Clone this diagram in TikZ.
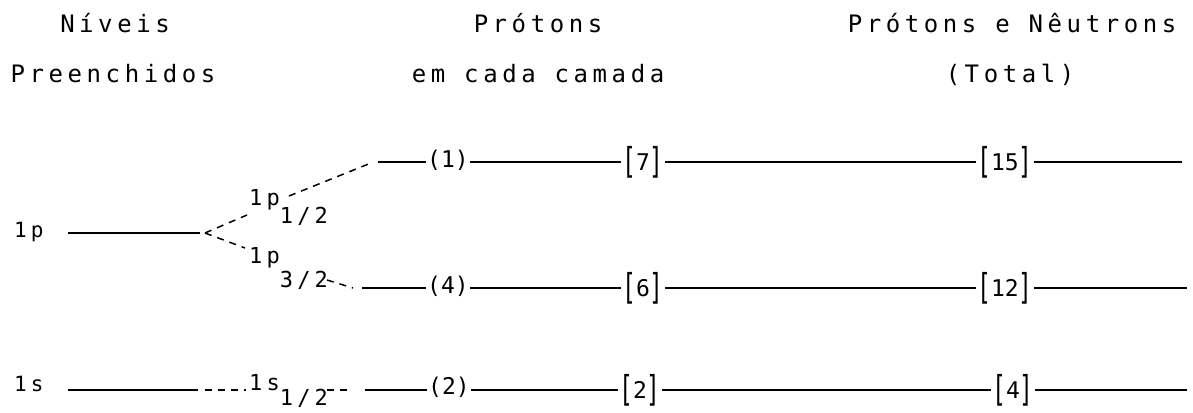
\documentclass[tikz,border=0pt]{standalone}
\usepackage{fontspec}
\usepackage{graphicx}
\newfontfamily\tw[LetterSpace=19]{DejaVu Sans Mono}
\newfontfamily\twn{DejaVu Sans Mono}
\newcommand\lbk{\raisebox{-0.12em}{\scalebox{1}[1.55]{[}}}
\newcommand\rbk{\raisebox{-0.12em}{\scalebox{1}[1.55]{]}}}
\begin{document}
\begin{tikzpicture}[x=1pt,y=-1pt,
  hdr/.style={font=\tw\fontsize{24}{28}\selectfont, inner sep=0pt, anchor=base},
  lvl/.style={font=\tw\fontsize{21}{24}\selectfont, inner sep=0pt, anchor=base west},
  sub/.style={font=\tw\fontsize{22}{26}\selectfont, inner sep=0pt, anchor=base west},
  cnt/.style={font=\twn\fontsize{23}{26}\selectfont, inner sep=1pt, anchor=base west},
  tot/.style={font=\twn\fontsize{23}{26}\selectfont, inner sep=1pt, anchor=west},
  lev/.style={line width=2pt},
  br/.style={line width=1.5pt, dash pattern=on 7pt off 6pt}]
\useasboundingbox (0,0) rectangle (1193,412);
% headers
\node[hdr] (h1) at (115,33) {Níveis};
\node[hdr] (h2) at (113,82) {Preenchidos};
\node[hdr] (h3) at (538,33) {Prótons};
\node[hdr] (h4) at (538,82) {em cada camada};
\node[hdr] (h5) at (1012,33) {Prótons e Nêutrons};
\node[hdr] (h6) at (1010,82) {(Total)};
% level labels
\node[lvl] (L1p) at (14,237) {1p};
\node[lvl] (L1s) at (14,391) {1s};
% split labels
\node[sub] (s12) at (249,205) {1p\raisebox{-18pt}{1/2}};
\node[sub] (s32) at (249,263) {1p\raisebox{-24pt}{3/2}};
\node[sub] (s1s) at (249,390) {1s\raisebox{-15pt}{1/2}};
% counts
\node[cnt] (c1) at (426,167) {(1)};
\node[cnt] (c4) at (426,293) {(4)};
\node[cnt] (c2) at (427,394) {(2)};
\node[tot] (t7) at (621,162) {\lbk 7\rbk};
\node[tot] (t6) at (621,288) {\lbk 6\rbk};
\node[tot] (t2) at (618,390) {\lbk 2\rbk};
\node[tot] (g15) at (976,162) {\lbk 15\rbk};
\node[tot] (g12) at (976,288) {\lbk 12\rbk};
\node[tot] (g4) at (991,390) {\lbk 4\rbk};
% coordinates
\coordinate (P0) at (68,233);
\coordinate (P1) at (200,233);
\coordinate (V) at (205,233);
\coordinate (a1) at (247,215);
\coordinate (a2) at (289,196);
\coordinate (a3) at (371,163);
\coordinate (b1) at (245,248);
\coordinate (b2) at (327,280);
\coordinate (b3) at (353,288);
\coordinate (A0) at (378,162);
\coordinate (A9) at (1182,162);
\coordinate (B0) at (362,288);
\coordinate (B9) at (1187,288);
\coordinate (S0) at (68,390);
\coordinate (S1) at (198,390);
\coordinate (S2) at (205,390);
\coordinate (S3) at (246,390);
\coordinate (S4) at (327,390);
\coordinate (S5) at (352,390);
\coordinate (S6) at (365,390);
\coordinate (S9) at (1187,390);
% 1p level and split
\draw[lev] (P0) -- (P1);
\draw[br] (V) -- (a1);
\draw[br] (a2) -- (a3);
\draw[br] (V) -- (b1);
\draw[br] (b2) -- (b3);
% top row
\draw[lev] (A0) -- (A0 -| c1.west);
\draw[lev] (A0 -| c1.east) -- (t7.west);
\draw[lev] (t7.east) -- (g15.west);
\draw[lev] (g15.east) -- (A9);
% middle row
\draw[lev] (B0) -- (B0 -| c4.west);
\draw[lev] (B0 -| c4.east) -- (t6.west);
\draw[lev] (t6.east) -- (g12.west);
\draw[lev] (g12.east) -- (B9);
% bottom row
\draw[lev] (S0) -- (S1);
\draw[br] (S2) -- (S3);
\draw[br] (S4) -- (S5);
\draw[lev] (S6) -- (S6 -| c2.west);
\draw[lev] (S6 -| c2.east) -- (t2.west);
\draw[lev] (t2.east) -- (g4.west);
\draw[lev] (g4.east) -- (S9);
\end{tikzpicture}
\end{document}
